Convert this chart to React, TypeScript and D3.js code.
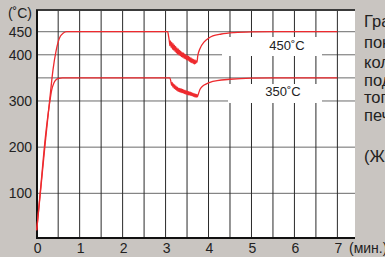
import * as d3 from 'd3';

// time in minutes, temperature in °C
const curve450: [number, number][] = [
  [0, 20], [0.1, 115], [0.2, 210], [0.3, 300], [0.38, 368], [0.45, 408], [0.5, 428],
  [0.55, 440], [0.62, 447], [0.7, 450], [3.05, 450], [3.07, 440], [3.09, 428], [3.1, 420],
  [3.115, 430], [3.13, 416], [3.145, 427], [3.16, 412], [3.175, 424], [3.19, 410], [3.205, 421],
  [3.22, 407], [3.235, 418], [3.25, 404], [3.265, 415], [3.28, 402], [3.295, 413], [3.31, 400],
  [3.325, 410], [3.34, 398], [3.355, 408], [3.37, 396], [3.385, 405], [3.4, 394], [3.415, 404],
  [3.43, 392], [3.445, 402], [3.46, 391], [3.475, 400], [3.49, 389], [3.505, 398], [3.52, 388],
  [3.535, 397], [3.55, 386], [3.565, 395], [3.58, 384], [3.595, 393], [3.61, 383], [3.625, 391],
  [3.64, 381], [3.655, 390], [3.67, 380], [3.685, 389], [3.7, 381], [3.715, 387], [3.73, 384],
  [3.75, 398], [3.8, 413], [3.9, 428], [4.0, 436], [4.1, 441], [4.3, 445], [4.6, 448],
  [5.0, 449.5], [5.5, 450], [7, 450],
];

const curve350: [number, number][] = [
  [0, 20], [0.1, 120], [0.2, 220], [0.3, 295], [0.35, 324], [0.4, 339], [0.45, 346],
  [0.52, 349], [0.6, 350], [3.1, 350], [3.12, 344], [3.14, 334], [3.155, 340], [3.17, 330],
  [3.185, 337], [3.2, 327], [3.215, 335], [3.23, 325], [3.245, 332], [3.26, 323], [3.275, 330],
  [3.29, 321], [3.305, 328], [3.32, 320], [3.335, 327], [3.35, 319], [3.365, 326], [3.38, 318],
  [3.395, 325], [3.41, 317], [3.425, 324], [3.44, 316], [3.455, 323], [3.47, 315], [3.485, 322],
  [3.5, 314], [3.515, 321], [3.53, 313], [3.545, 320], [3.56, 313], [3.575, 319], [3.59, 312],
  [3.605, 318], [3.62, 311], [3.635, 317], [3.65, 310], [3.665, 316], [3.68, 309], [3.695, 315],
  [3.71, 308], [3.725, 314], [3.74, 309], [3.76, 314], [3.8, 325], [3.86, 332], [3.95, 337],
  [4.05, 341], [4.2, 344], [4.5, 347], [5.0, 349.5], [5.5, 350], [7, 350],
];

const xTicks = [0, 1, 2, 3, 4, 5, 6, 7];
const xGrid = [0.5, 1, 1.5, 2, 2.5, 3, 3.5, 4, 4.5, 5, 5.5, 6, 6.5, 7];
const yTicks = [100, 200, 300, 400, 450];
const yGrid = [100, 200, 300, 350, 400, 450];
const sideText = ['Графики', 'понижения', 'колебаний', 'подачи', 'топлива', 'печи', '(Жаропрочность)'];

export default function App() {
  const width = 385;
  const height = 257;
  const left = 37;
  const right = 355;
  const top = 10;
  const bottom = 238;

  const x = d3.scaleLinear().domain([0, 7.41]).range([36.7, 355]);
  const y = d3.scaleLinear().domain([0, 497]).range([239.5, 10]);

  const line = d3
    .line<[number, number]>()
    .x((d) => x(d[0]))
    .y((d) => y(d[1]))
    .curve(d3.curveMonotoneX);

  const font = '"Liberation Sans", Arial, sans-serif';
  const lineY = [21, 42, 62, 80, 97, 115, 156];

  return (
    <svg
      width={width}
      height={height}
      style={{ position: 'absolute', left: 0, top: 0, display: 'block' }}
      fontFamily={font}
    >
      <rect x={0} y={0} width={width} height={height} fill="#c9c5c1" />
      <rect x={left} y={top} width={right - left} height={bottom - top} fill="#ffffff" />

      {/* grid */}
      {yGrid.map((v) => (
        <line key={'h' + v} x1={left} x2={right} y1={y(v)} y2={y(v)} stroke="#6a6a6a" strokeWidth={1} />
      ))}
      {xGrid.map((v) => (
        <line key={'v' + v} x1={x(v)} x2={x(v)} y1={top} y2={bottom} stroke="#2a2a2a" strokeWidth={1} />
      ))}

      {/* label boxes */}
      <rect x={222} y={37} width={100} height={19} fill="#ffffff" />
      <rect x={228} y={84} width={94} height={19} fill="#ffffff" />

      {/* frame */}
      <line x1={left - 1} x2={right} y1={top} y2={top} stroke="#3a3a3a" strokeWidth={2} />
      <line x1={left} x2={left} y1={top} y2={bottom} stroke="#111" strokeWidth={2} />
      <line x1={left - 1} x2={right} y1={bottom} y2={bottom} stroke="#111" strokeWidth={2} />

      {/* curves */}
      <path d={line(curve450) ?? ''} fill="none" stroke="#ee2a2e" strokeWidth={1.3} />
      <path d={line(curve350) ?? ''} fill="none" stroke="#ee2a2e" strokeWidth={1.3} />

      <text x={287} y={50} fontSize={13} textAnchor="middle" fill="#222">450˚C</text>
      <text x={283} y={96} fontSize={13} textAnchor="middle" fill="#222">350˚C</text>

      {/* y axis labels */}
      <text x={32} y={18} fontSize={14} textAnchor="end" fill="#222">(˚C)</text>
      {yTicks.map((v) => (
        <text key={'yt' + v} x={32} y={y(v) + 5} fontSize={14} textAnchor="end" fill="#222">
          {v}
        </text>
      ))}

      {/* x axis labels */}
      {xTicks.map((v) => (
        <text key={'xt' + v} x={x(v) + 1} y={253} fontSize={14} textAnchor="middle" fill="#222">
          {v}
        </text>
      ))}
      <text x={349} y={253} fontSize={14} fill="#222">(мин.)</text>

      {/* side text */}
      {sideText.map((t, i) => (
        <text key={'s' + i} x={364} y={lineY[i] + 6} fontSize={16.5} fill="#222">
          {t}
        </text>
      ))}
    </svg>
  );
}
